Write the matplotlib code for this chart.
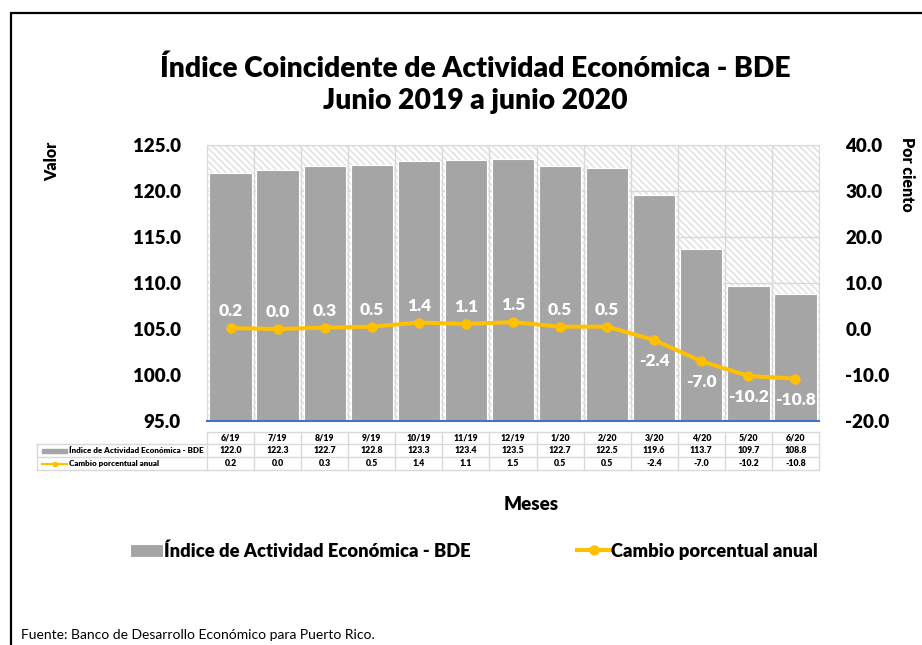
import matplotlib
matplotlib.use("Agg")
import matplotlib.pyplot as plt
import matplotlib.transforms as mtransforms
from matplotlib.lines import Line2D
from matplotlib.patches import Rectangle

plt.rcParams["font.family"] = ["Lato", "DejaVu Sans"]
plt.rcParams["hatch.linewidth"] = 1.2

# datos
meses = ["6/19", "7/19", "8/19", "9/19", "10/19", "11/19", "12/19",
         "1/20", "2/20", "3/20", "4/20", "5/20", "6/20"]
indice = [122.0, 122.3, 122.7, 122.8, 123.3, 123.4, 123.5,
          122.7, 122.5, 119.6, 113.7, 109.7, 108.8]
cambio = [0.2, 0.0, 0.3, 0.5, 1.4, 1.1, 1.5, 0.5, 0.5, -2.4, -7.0, -10.2, -10.8]

lbl_indice = "Índice de Actividad Económica - BDE"
lbl_cambio = "Cambio porcentual anual"

GRIS = "#a5a5a5"
AMARILLO = "#ffc000"
REJILLA = "#d9d9d9"
PESO = "heavy"

W, H = 922, 645
fig = plt.figure(figsize=(W / 100, H / 100), dpi=100)

# marco negro
fig.add_artist(Rectangle((11 / W, -0.05), 1.0, 1 - 13 / H + 0.05,
                         transform=fig.transFigure, fill=False,
                         edgecolor="black", linewidth=1.6))

ax_l, ax_r, ax_t, ax_b = 207, 819, 145, 421
ax = fig.add_axes([ax_l / W, 1 - ax_b / H, (ax_r - ax_l) / W, (ax_b - ax_t) / H])
n = len(meses)
x = list(range(n))

# fondo rayado
ax.patch.set_facecolor("white")
ax.patch.set_hatch("\\" * 5)
ax.patch.set_edgecolor("#e3e3e3")

bars = ax.bar(x, [v - 95 for v in indice], bottom=95, width=0.9, color=GRIS,
              edgecolor="white", linewidth=0.8, label=lbl_indice, zorder=3)
ax.set_xlim(-0.5, n - 0.5)
ax.set_ylim(95, 125)
ax.set_yticks([95, 100, 105, 110, 115, 120, 125])
ax.set_yticklabels([f"{v:.1f}" for v in ax.get_yticks()],
                   fontsize=13.5, fontweight=PESO)
ax.set_xticks([])
ax.tick_params(axis="y", length=0, pad=19)
for y in [100, 105, 110, 115, 120, 125]:
    ax.axhline(y, color=REJILLA, linewidth=1, zorder=1)
for xb in [i + 0.5 for i in range(n - 1)]:
    ax.axvline(xb, color=REJILLA, linewidth=1, zorder=1)
for s in ["top", "left", "right"]:
    ax.spines[s].set_color(REJILLA)
ax.spines["bottom"].set_color("#4472c4")
ax.spines["bottom"].set_linewidth(1.5)
ax.spines["bottom"].set_zorder(5)

ax2 = ax.twinx()
ax2.set_ylim(-20, 40)
ax2.set_yticks(range(-20, 41, 10))
ax2.set_yticklabels([f"{v:.1f}" for v in range(-20, 41, 10)],
                    fontsize=13.5, fontweight=PESO)
ax2.tick_params(axis="y", length=0, pad=19)
for s in ax2.spines.values():
    s.set_visible(False)
linea, = ax2.plot(x, cambio, color=AMARILLO, linewidth=2.9, marker="o",
                  markersize=6.5, label=lbl_cambio, zorder=4)
for xi, v in zip(x, cambio):
    off = 12 if v >= 0 else -15
    ax2.annotate(f"{v:.1f}", (xi, v), xytext=(0, off), textcoords="offset points",
                 ha="center", va="center", color="white", fontsize=12.5,
                 fontweight=PESO)

# tabla de datos bajo el gráfico
trans = mtransforms.blended_transform_factory(ax.transData, ax.transAxes)
hpx = ax_b - ax_t
def yf(py):
    return (ax_b - py) / hpx

filas = [432, 444, 457, 470]
x_izq = (37 - ax_l) / (ax_r - ax_l)
for j, py in enumerate(filas):
    if j == 0:
        ax.plot([-0.5, n - 0.5], [yf(py)] * 2, transform=trans, color=REJILLA,
                linewidth=1, clip_on=False)
    else:
        ax.plot([x_izq, 1], [yf(py)] * 2, transform=ax.transAxes, color=REJILLA,
                linewidth=1, clip_on=False)
for i in range(n + 1):
    ax.plot([i - 0.5] * 2, [yf(432), yf(470)], transform=trans, color=REJILLA,
            linewidth=1, clip_on=False)
ax.plot([x_izq] * 2, [yf(444), yf(470)], transform=ax.transAxes, color=REJILLA,
        linewidth=1, clip_on=False)

for i in range(n):
    ax.text(i, yf(438), meses[i], transform=trans, ha="center", va="center",
            fontsize=6.3, fontweight=PESO)
    ax.text(i, yf(450.5), f"{indice[i]:.1f}", transform=trans, ha="center",
            va="center", fontsize=6.3, fontweight=PESO)
    ax.text(i, yf(463.5), f"{cambio[i]:.1f}", transform=trans, ha="center",
            va="center", fontsize=6.3, fontweight=PESO)

kx0 = (42 - ax_l) / (ax_r - ax_l)
kx1 = (67 - ax_l) / (ax_r - ax_l)
ax.add_patch(Rectangle((kx0, yf(452.5)), kx1 - kx0, yf(448.5) - yf(452.5),
                       transform=ax.transAxes, color=GRIS, clip_on=False))
ax.add_artist(Line2D([kx0, kx1], [yf(463.5)] * 2, transform=ax.transAxes,
                     color=AMARILLO, linewidth=1.6, clip_on=False))
ax.add_artist(Line2D([(kx0 + kx1) / 2], [yf(463.5)], transform=ax.transAxes,
                     color=AMARILLO, marker="o", markersize=3, clip_on=False))
tx = (69 - ax_l) / (ax_r - ax_l)
ax.text(tx, yf(450.5), lbl_indice, transform=ax.transAxes, ha="left",
        va="center", fontsize=5.8, fontweight=PESO)
ax.text(tx, yf(463.5), lbl_cambio, transform=ax.transAxes, ha="left",
        va="center", fontsize=5.8, fontweight=PESO)

# títulos y rótulos
fig.text(475 / W, 1 - 85 / H, "Índice Coincidente de Actividad Económica - BDE\nJunio 2019 a junio 2020",
         ha="center", va="center", fontsize=20.3, fontweight=PESO, linespacing=1.3)
fig.text(52 / W, 1 - 161 / H, "Valor", rotation=90, ha="center", va="center",
         fontsize=11.5, fontweight=PESO)
fig.text(907 / W, 1 - 174 / H, "Por ciento", rotation=-90, ha="center",
         va="center", fontsize=11.5, fontweight=PESO)
fig.text(531 / W, 1 - 505 / H, "Meses", ha="center", va="center",
         fontsize=13.5, fontweight=PESO)

fig.legend(handles=[bars, linea], loc="center", bbox_to_anchor=(474 / W, 1 - 551 / H),
           ncol=2, frameon=False, prop={"weight": PESO, "size": 13.2},
           handlelength=1.8, handletextpad=0.05, columnspacing=5.8)

fig.text(21 / W, 1 - 635 / H, "Fuente: Banco de Desarrollo Económico para Puerto Rico.",
         ha="left", va="center", fontsize=10)

fig.savefig("out.png", dpi=100)
